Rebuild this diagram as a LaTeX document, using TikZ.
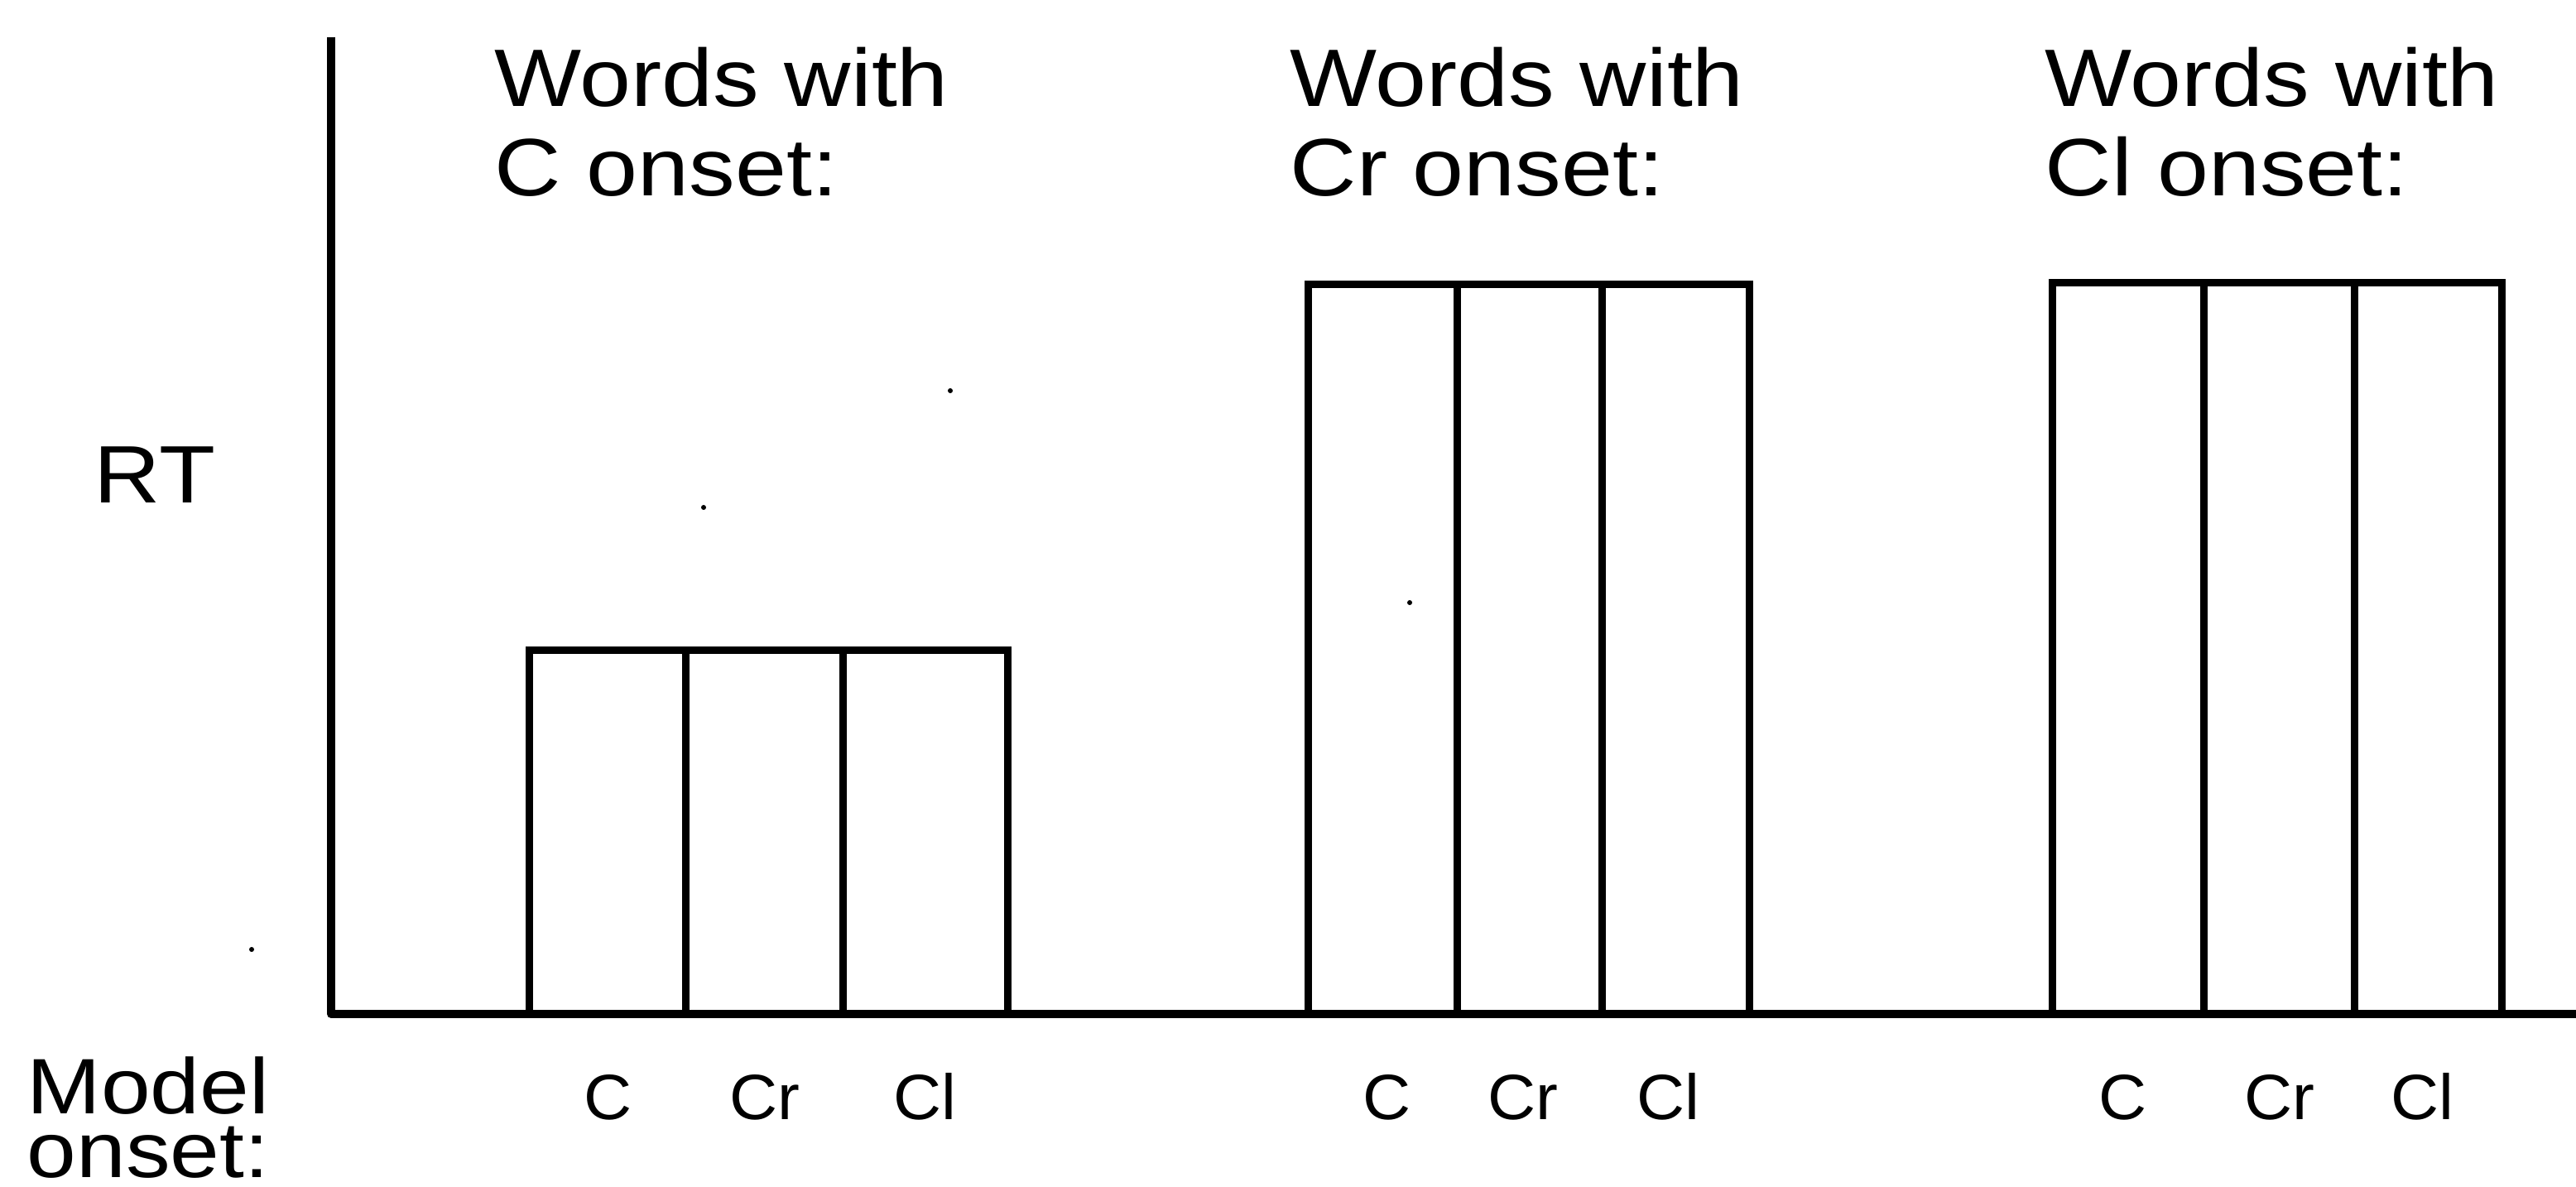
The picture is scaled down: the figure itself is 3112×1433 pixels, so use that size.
\documentclass[tikz,border=0pt]{standalone}
\usepackage{fontspec}
\newfontfamily\hfont[FakeStretch=1.13]{Liberation Sans}
\newfontfamily\lfont[FakeStretch=1.04]{Liberation Sans}
\begin{document}
\begin{tikzpicture}[x=0.01cm,y=-0.01cm,
  axisline/.style={line width=0.1cm, line join=round},
  barline/.style={line width=0.09cm, line join=miter},
  head/.style={font=\hfont\fontsize{28}{30}\selectfont, anchor=base west, inner sep=0pt},
  side/.style={font=\hfont\fontsize{27}{22}\selectfont, align=left, anchor=south west, inner sep=0pt},
  lab/.style={font=\lfont\fontsize{22}{24}\selectfont, anchor=base, inner sep=0pt},
  speck/.style={fill=black}]
\useasboundingbox (0,0) rectangle (3112,1433);

% axes
\draw[axisline] (400,45) -- (400,1225) -- (3112,1225);

% group 1 bars
\draw[barline] (639,785) rectangle (1217,1225);
\draw[barline] (828,785) -- (828,1225);
\draw[barline] (1018,785) -- (1018,1225);

% group 2 bars
\draw[barline] (1580,343) rectangle (2113,1225);
\draw[barline] (1760,343) -- (1760,1225);
\draw[barline] (1935,343) -- (1935,1225);

% group 3 bars
\draw[barline] (2479,341) rectangle (3022,1225);
\draw[barline] (2662,341) -- (2662,1225);
\draw[barline] (2844,341) -- (2844,1225);

% headings
\node[head] (h1a) at (597,128) {Words with};
\node[head] (h1b) at (597,236) {C onset:};
\node[head] (h2a) at (1558,128) {Words with};
\node[head] (h2b) at (1558,236) {Cr onset:};
\node[head] (h3a) at (2470,128) {Words with};
\node[head] (h3b) at (2470,236) {Cl onset:};

% axis labels
\node[head] (rt) at (113,607) {RT};
\node[side] (model) at (32,1424) {Model\\onset:};

% model onset labels
\node[lab] (l1a) at (735,1352) {C};
\node[lab] (l1b) at (924,1352) {Cr};
\node[lab] (l1c) at (1117,1352) {Cl};
\node[lab] (l2a) at (1676,1352) {C};
\node[lab] (l2b) at (1840,1352) {Cr};
\node[lab] (l2c) at (2015,1352) {Cl};
\node[lab] (l3a) at (2565,1352) {C};
\node[lab] (l3b) at (2754,1352) {Cr};
\node[lab] (l3c) at (2926,1352) {Cl};

% specks
\fill[speck] (1148,472) circle[radius=0.03cm];
\fill[speck] (850,613) circle[radius=0.03cm];
\fill[speck] (1703,728) circle[radius=0.03cm];
\fill[speck] (304,1147) circle[radius=0.03cm];
\end{tikzpicture}
\end{document}
